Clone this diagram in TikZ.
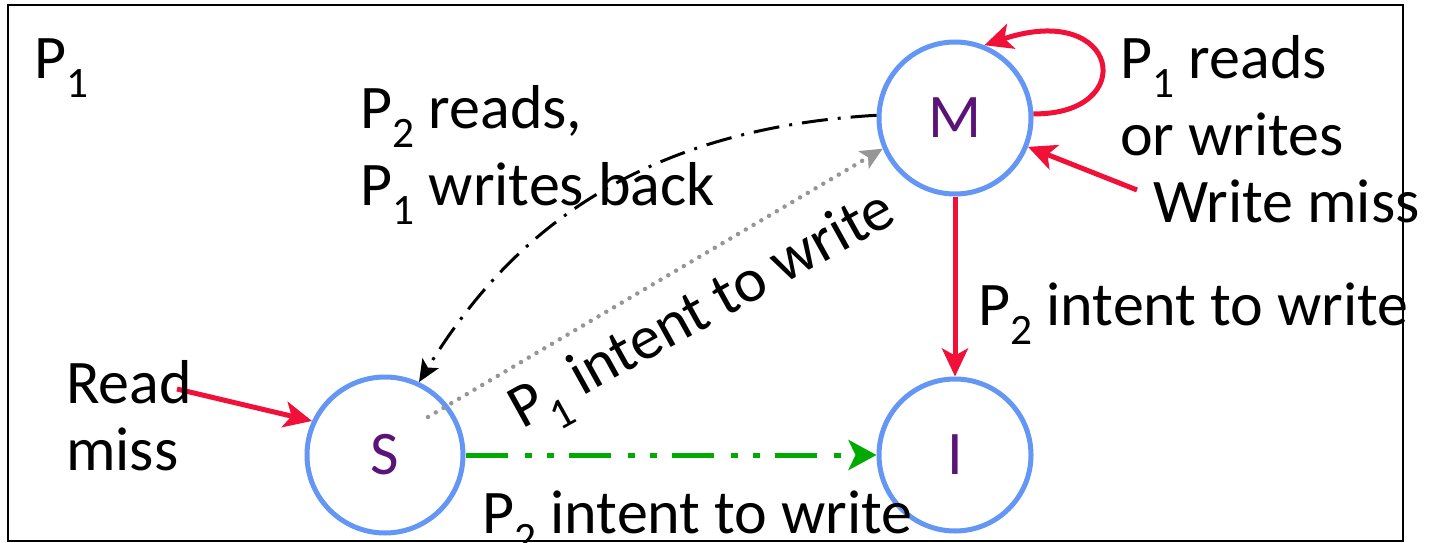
\documentclass[tikz,border=0pt]{standalone}
\usepackage{fontspec}
\setmainfont{Carlito}
\usetikzlibrary{arrows.meta}
\definecolor{state border color}{RGB}{100,150,245}
\definecolor{state text color}{RGB}{90,20,120}
\definecolor{miss color}{RGB}{240,16,56}
\definecolor{shared color}{RGB}{0,170,0}
\definecolor{upgrade color}{RGB}{150,150,150}
\tikzset{
    x={1pt},
    y={-1pt},
    frame/.style={
        draw=black,
        line width={2.5pt},
    },
    state/.style={
        circle, draw=state border color,
        line width={5pt},
        minimum size={152},
        inner sep=0pt,
        text=state text color,
        font={\fontsize{62}{77}\selectfont},
    },
    caption/.style={
        anchor=base west,
        align=left,
        inner sep=0pt,
        font={\fontsize{62}{77}\selectfont},
    },
    transition/.style={
        draw={#1},
        line width={5pt},
        -{Stealth[length=28pt,width=26pt,inset=7pt]},
    },
    shared transition/.style={
        transition={shared color},
        dash pattern=on 42pt off 17pt on 7pt off 15pt on 7pt off 15pt,
        -{Stealth[length=28pt,width=30pt,inset=7pt]},
    },
    writeback transition/.style={
        draw=black,
        line width={3pt},
        dash pattern=on 26pt off 10pt on 3pt off 10pt,
        -{Stealth[length=22pt,width=19pt,inset=5pt]},
    },
    upgrade transition/.style={
        draw=upgrade color,
        line width={4.5pt},
        line cap=round,
        dash pattern=on 0pt off 9pt,
        -{Stealth[length=22pt,width=20pt,inset=5pt]},
    },
}

\begin{document}
\begin{tikzpicture}
\useasboundingbox (0,0) rectangle (1435,543);
% frame
\path[frame] (8,5) rectangle (1403,541);
% states
\node[state] (M) at (955,118) {M};
\node[state, minimum size={156}] (S) at (385,455) {S};
\node[state] (I) at (955,455) {I};
\coordinate (read miss) at (177,389);
\coordinate (write miss) at (1137,190);
% transitions
\path[transition={miss color}] (M.3) .. controls (1140,115) and (1120,0) .. (M.68);
\path[transition={miss color}] (write miss) -- (M);
\path[transition={miss color}] (M) -- (I);
\path[transition={miss color}] (read miss) -- (S.155);
\path[shared transition] (S) -- (I);
\path[writeback transition] (M.178) .. controls (620,130) and (500,250) .. (S.65);
\path[upgrade transition] ([shift={(43,-38)}]S.center) -- (M.203);
% labels
\node[caption] (owner) at (34,78) {P\textsubscript{1}};
\node[caption] (writeback) at (360,205) {P\textsubscript{2} reads,\\P\textsubscript{1} writes back};
\node[caption] (self) at (1120,155) {P\textsubscript{1} reads\\or writes};
\node[caption] (wmiss) at (1153,222) {Write miss};
\node[caption] (invalidate) at (978,325) {P\textsubscript{2} intent to write};
\node[caption] (rmiss) at (66,470) {Read\\[-10pt]miss};
\node[caption] (share) at (482,533) {P\textsubscript{2} intent to write};
\node[caption, rotate=29] (upgrade) at (522,430) {P\textsubscript{1} intent to write};
\end{tikzpicture}
\end{document}
